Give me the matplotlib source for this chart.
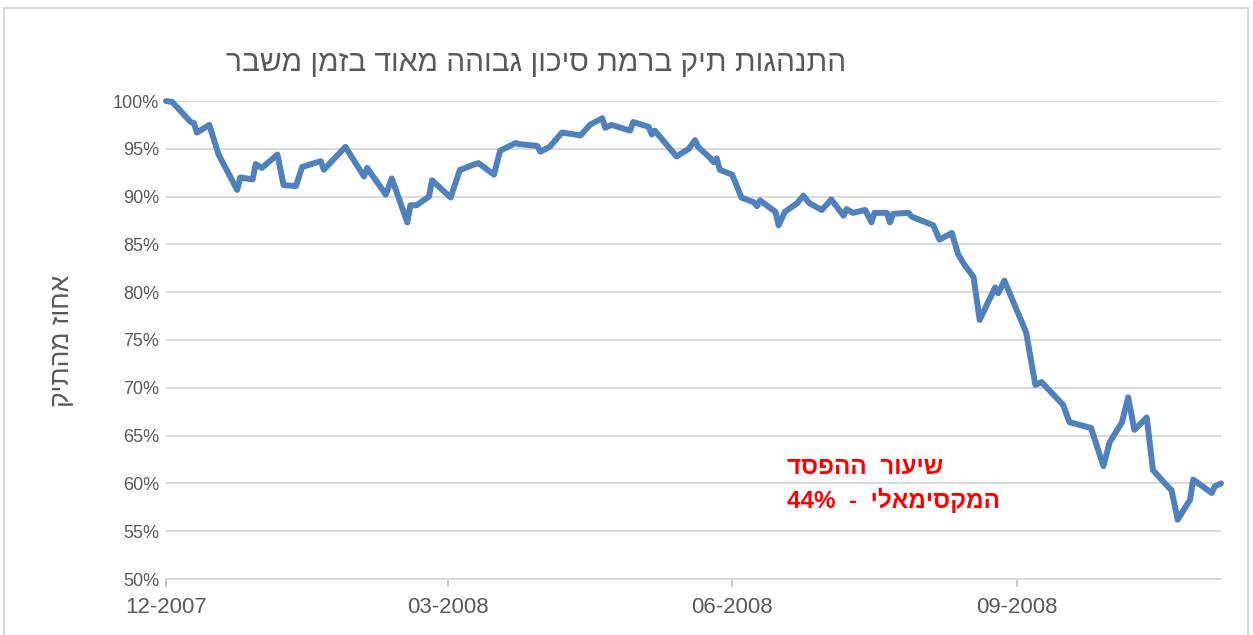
import numpy as np
import pandas as pd
import matplotlib
matplotlib.use('Agg')
import matplotlib.pyplot as plt
import matplotlib.dates as mdates
from matplotlib.patches import Rectangle

plt.rcParams['font.family'] = ['Liberation Sans', 'DejaVu Sans']

# ===== data =====
start_date = pd.Timestamp('2007-12-01')
day_offsets = [0, 2, 8, 9, 10, 14, 17, 23, 24, 28, 29, 31, 36, 38, 42, 44, 50, 51, 53, 58,
               64, 65, 70, 71, 73, 78, 79, 81, 85, 86, 92, 95, 96, 99, 101, 106, 108, 113, 114, 120,
               121, 124, 128, 134, 137, 141, 142, 144, 150, 151, 156, 157, 158, 165, 169, 171, 172, 176, 177, 178,
               179, 183, 186, 190, 191, 192, 197, 198, 200, 204, 206, 208, 212, 215, 219, 220, 222, 226, 228, 229,
               233, 234, 235, 240, 241, 248, 250, 254, 256, 258, 261, 263, 268, 269, 271, 278, 281, 283, 290, 292,
               299, 303, 305, 309, 311, 313, 317, 319, 324, 325, 327, 331, 332, 338, 339, 341]
portfolio_pct = [100.0, 99.9, 97.8, 97.7, 96.7, 97.5, 94.4, 90.7, 92.0, 91.8, 93.4, 93.0, 94.4, 91.2, 91.1, 93.1, 93.7, 92.8, 93.5, 95.2,
                 92.1, 93.0, 90.7, 90.2, 91.9, 87.3, 89.1, 89.1, 90.0, 91.7, 89.9, 92.8, 92.9, 93.3, 93.5, 92.3, 94.8, 95.6, 95.5, 95.3,
                 94.7, 95.2, 96.7, 96.4, 97.5, 98.2, 97.2, 97.5, 96.9, 97.8, 97.3, 96.5, 96.9, 94.2, 95.0, 95.9, 95.2, 94.0, 93.6, 94.0,
                 92.8, 92.3, 89.9, 89.4, 89.0, 89.6, 88.4, 87.0, 88.4, 89.3, 90.1, 89.3, 88.6, 89.7, 88.0, 88.7, 88.3, 88.6, 87.3, 88.3,
                 88.3, 87.3, 88.2, 88.3, 87.9, 87.0, 85.5, 86.2, 84.0, 82.9, 81.6, 77.1, 80.5, 79.9, 81.2, 75.8, 70.3, 70.6, 68.2, 66.4,
                 65.8, 61.8, 64.3, 66.4, 69.0, 65.6, 66.9, 61.4, 59.6, 59.3, 56.2, 58.3, 60.4, 59.0, 59.7, 60.0]

y_ticks = [50, 55, 60, 65, 70, 75, 80, 85, 90, 95, 100]

title = 'התנהגות תיק ברמת סיכון גבוהה מאוד בזמן משבר'
y_label = 'אחוז מהתיק'
note_line1 = 'שיעור  ההפסד'
note_word = 'המקסימאלי'
note_value = '44%'

dates = start_date + pd.to_timedelta(day_offsets, unit='D')
values = np.array(portfolio_pct) / 100

# matplotlib has no bidi, so Hebrew is written in visual order
def visual(s):
    return s[::-1]

grey_text = '#595959'
grid_col = '#D9D9D9'

fig = plt.figure(figsize=(12.53, 6.35), dpi=100)
W, H = 1253, 635
ax = fig.add_axes([166 / W, 1 - 579 / H, (1221 - 166) / W, (579 - 101) / H])

# chart area border
fig.patches.append(Rectangle((4 / W, -0.05), (1248 - 4) / W, 1.05 - 8 / H,
                             transform=fig.transFigure, fill=False,
                             edgecolor=grid_col, lw=1.5))

ax.plot(dates, values, color='#4F81BD', lw=4.3, solid_joinstyle='round',
        solid_capstyle='round', zorder=3, clip_on=False)

ax.set_ylim(0.5, 1.0)
ax.set_yticks([t / 100 for t in y_ticks])
ax.set_yticklabels([f'{t}%' for t in y_ticks])
ax.set_xlim(dates[0], dates[-1])
ax.xaxis.set_major_locator(mdates.MonthLocator(bymonth=[3, 6, 9, 12]))
ax.xaxis.set_major_formatter(mdates.DateFormatter('%m-%Y'))

ax.yaxis.grid(True, color=grid_col, lw=1.4)
ax.set_axisbelow(True)
for side in ['top', 'right', 'left']:
    ax.spines[side].set_visible(False)
ax.spines['bottom'].set_color(grid_col)
ax.spines['bottom'].set_linewidth(1.4)

ax.tick_params(axis='y', length=0, pad=5, labelsize=13, labelcolor=grey_text)
ax.tick_params(axis='x', length=6, width=1.2, color='#BFBFBF', pad=7,
               labelsize=16, labelcolor=grey_text)

fig.text(536 / W, 1 - 63 / H, visual(title), ha='center', va='center',
         fontsize=21.5, color=grey_text)
fig.text(62 / W, 1 - 341 / H, visual(y_label), ha='center', va='center',
         rotation=90, fontsize=19, color=grey_text)

ax.text(0.5886, 0.234, visual(note_line1), transform=ax.transAxes,
        ha='left', va='center', fontsize=17.5, fontweight='bold', color='red')
ax.text(0.5886, 0.165, note_value + '  -  ' + visual(note_word), transform=ax.transAxes,
        ha='left', va='center', fontsize=17.5, fontweight='bold', color='red')

fig.savefig('out.png', dpi=100)
